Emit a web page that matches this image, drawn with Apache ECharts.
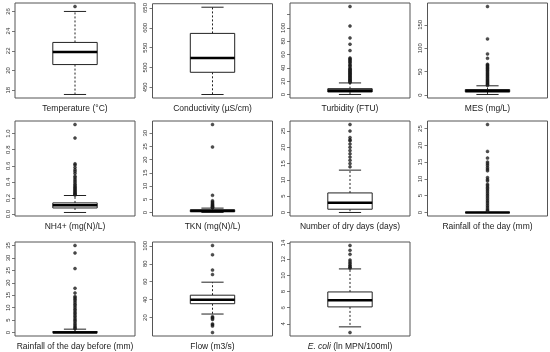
<!DOCTYPE html>
<html>
<head>
<meta charset="utf-8">
<script src="https://cdn.jsdelivr.net/npm/echarts@6/dist/echarts.min.js"></script>
<style>html,body{margin:0;padding:0;background:#fff;}#c{width:550px;height:352px;}</style>
</head>
<body>
<div id="c"></div>
<script>
// ---- data ----
const panelTitles = [
  'Temperature (°C)', 'Conductivity (µS/cm)', 'Turbidity (FTU)', 'MES (mg/L)',
  'NH4+ (mg(N)/L)', 'TKN (mg(N)/L)', 'Number of dry days (days)', 'Rainfall of the day (mm)',
  'Rainfall of the day before (mm)', 'Flow (m3/s)', '{i|E. coli} (ln MPN/100ml)'
];
// [lower whisker, Q1, median, Q3, upper whisker]
const temperatureStats = [17.56, 20.6, 21.87, 22.85, 26.0];
const conductivityStats = [432, 488, 524, 586, 652];
const turbidityStats = [0.3, 4, 6, 9, 17.6];
const mesStats = [1.5, 7, 9, 12, 20];
const nh4Stats = [0.02, 0.076, 0.109, 0.139, 0.231];
const tknStats = [0, 0.25, 0.64, 1.0, 1.65];
const dryDaysStats = [0, 1, 3, 6, 13];
const rainDayStats = [0, 0, 0, 0, 0];
const rainBeforeStats = [0, 0, 0, 0.4, 1.35];
const flowStats = [24, 35.5, 40, 45, 59.5];
const ecoliStats = [3.63, 6.1, 6.92, 7.95, 10.8];

const temperatureOut = [26.5];
const conductivityOut = [];
const turbidityOut = [132, 102.8, 85, 75.6, 66, 55, 53.6, 52.2, 50.5, 49, 47.3, 45, 43.6, 41.8, 39.5, 38.2, 37, 35.8, 34.6, 33.5, 32.1, 31, 29.8, 28.7, 27.4, 26.3, 25.1, 24, 22.9, 21.7, 20.6, 19.5, 18.4];
const mesOut = [189, 120, 88, 78.6, 66, 64.2, 62.5, 60.3, 58.1, 56.4, 54, 52.2, 49.8, 47.5, 45.3, 43.1, 41, 38.6, 36.5, 34.2, 32, 30.1, 28, 26.2, 24.1, 22.4, 21];
const nh4Out = [1.113, 0.945, 0.625, 0.61, 0.58, 0.55, 0.53, 0.505, 0.47, 0.452, 0.43, 0.41, 0.392, 0.372, 0.355, 0.34, 0.328, 0.315, 0.302, 0.29, 0.278, 0.266, 0.255, 0.244, 0.236];
const tknOut = [33.3, 24.8, 6.5, 4.4, 4.0, 3.6, 3.2, 2.9, 2.6, 2.35, 2.1, 1.9, 1.78];
const dryDaysOut = [27, 25, 23, 22.3, 22, 21, 20, 19, 18, 17, 16, 15, 14];
const rainDayOut = [26.2, 18.2, 16.2, 15, 14.5, 14, 13.4, 12.9, 12.4, 10.4, 9.8, 9.4, 8.4, 8, 7.5, 7.1, 6.6, 6.1, 5.6, 5.1, 4.6, 4.1, 3.6, 3.1, 2.6, 2.1, 1.6, 1.1, 0.7, 0.4];
const rainBeforeOut = [35, 32, 25.7, 17.8, 15.9, 14.5, 14, 13.4, 12.8, 12.1, 11.4, 10.8, 10.1, 9.4, 8.8, 8.1, 7.5, 6.8, 6.2, 5.5, 4.9, 4.3, 3.6, 3, 2.4, 1.9, 1.5];
const flowOut = [100.4, 90, 73, 68, 21, 20, 19.2, 18, 13, 12, 10.6, 3.4];
const ecoliOut = [13.7, 13.1, 12.6, 11.9, 11.7, 11.5, 11.3, 11.15, 11.0, 10.9, 2.93];

const temperatureTicks = [18, 20, 22, 24, 26];
const conductivityTicks = [450, 500, 550, 600, 650];
const turbidityTicks = [0, 20, 40, 60, 80, 100, 120];
const turbidityLabels = [0, 20, 40, 60, 80, 100];
const mesTicks = [0, 50, 100, 150];
const nh4Ticks = [0, 0.2, 0.4, 0.6, 0.8, 1.0];
const tknTicks = [0, 5, 10, 15, 20, 25, 30, 35];
const dryDaysTicks = [0, 5, 10, 15, 20, 25];
const rainDayTicks = [0, 5, 10, 15, 20, 25];
const rainBeforeTicks = [0, 5, 10, 15, 20, 25, 30, 35];
const flowTicks = [20, 40, 60, 80, 100];
const ecoliTicks = [4, 6, 8, 10, 12, 14];

const panelStats = [temperatureStats, conductivityStats, turbidityStats, mesStats, nh4Stats, tknStats, dryDaysStats, rainDayStats, rainBeforeStats, flowStats, ecoliStats];
const panelOut = [temperatureOut, conductivityOut, turbidityOut, mesOut, nh4Out, tknOut, dryDaysOut, rainDayOut, rainBeforeOut, flowOut, ecoliOut];
const panelTicks = [temperatureTicks, conductivityTicks, turbidityTicks, mesTicks, nh4Ticks, tknTicks, dryDaysTicks, rainDayTicks, rainBeforeTicks, flowTicks, ecoliTicks];
const panelLabels = [temperatureTicks, conductivityTicks, turbidityLabels, mesTicks, nh4Ticks, tknTicks, dryDaysTicks, rainDayTicks, rainBeforeTicks, flowTicks, ecoliTicks];

// ---- layout ----
const colLeft = [15, 152.5, 290, 427.5];
const rowTop = [3, 121, 242];
const plotW = 120, plotH = 95;
const FONT = 'Liberation Sans, Arial, sans-serif';

const grids = [], xAxes = [], yAxes = [], series = [];
panelStats.forEach((st, i) => {
  const r = Math.floor(i / 4), c = i % 4;
  grids.push({left: colLeft[c], top: rowTop[r], width: plotW, height: plotH,
    show: true, borderColor: '#555', borderWidth: 1, backgroundColor: 'transparent'});
  const all = st.concat(panelOut[i]);
  const lo = Math.min(...all), hi = Math.max(...all);
  const ext = (hi - lo) * 0.04;
  xAxes.push({type: 'category', gridIndex: i, data: ['v'],
    axisLine: {show: false}, axisTick: {show: false}, axisLabel: {show: false},
    splitLine: {show: false},
    name: panelTitles[i], nameLocation: 'middle', nameGap: 6,
    nameTextStyle: {fontFamily: FONT, fontSize: 8.5, color: '#222',
      rich: {i: {fontStyle: 'italic', fontFamily: FONT, fontSize: 8.5, color: '#222'}}}});
  const isNH4 = i === 4;
  yAxes.push({type: 'value', gridIndex: i, min: lo - ext, max: hi + ext,
    splitLine: {show: false}, axisLine: {show: false},
    axisTick: {show: true, length: 3, lineStyle: {color: '#555', width: 0.8}, customValues: panelTicks[i]},
    axisLabel: {show: true, rotate: 90, margin: 4, fontSize: 6, color: '#333', fontFamily: FONT,
      customValues: panelLabels[i],
      formatter: v => isNH4 ? Number(v).toFixed(1) : String(v)}});
  series.push({type: 'custom', xAxisIndex: i, yAxisIndex: i, silent: true,
    data: [[0].concat(st)],
    encode: {x: 0, y: [1, 2, 3, 4, 5]},
    renderItem: function (params, api) {
      const bw = api.size([1, 0])[0] * 0.37;
      const cw = bw * 0.5;
      const pMin = api.coord([0, api.value(1)]);
      const pQ1 = api.coord([0, api.value(2)]);
      const pMed = api.coord([0, api.value(3)]);
      const pQ3 = api.coord([0, api.value(4)]);
      const pMax = api.coord([0, api.value(5)]);
      const x = pMed[0];
      const lineC = '#222';
      return {type: 'group', children: [
        {type: 'line', shape: {x1: x, y1: pQ3[1], x2: x, y2: pMax[1]}, style: {stroke: lineC, lineWidth: 1, lineDash: [2, 2]}},
        {type: 'line', shape: {x1: x, y1: pQ1[1], x2: x, y2: pMin[1]}, style: {stroke: lineC, lineWidth: 1, lineDash: [2, 2]}},
        {type: 'line', shape: {x1: x - cw / 2, y1: pMax[1], x2: x + cw / 2, y2: pMax[1]}, style: {stroke: lineC, lineWidth: 1}},
        {type: 'line', shape: {x1: x - cw / 2, y1: pMin[1], x2: x + cw / 2, y2: pMin[1]}, style: {stroke: lineC, lineWidth: 1}},
        {type: 'rect', shape: {x: x - bw / 2, y: pQ3[1], width: bw, height: pQ1[1] - pQ3[1]}, style: {fill: '#fff', stroke: lineC, lineWidth: 1}},
        {type: 'line', shape: {x1: x - bw / 2, y1: pMed[1], x2: x + bw / 2, y2: pMed[1]}, style: {stroke: '#000', lineWidth: 2.6}}
      ]};
    }});
  series.push({type: 'scatter', xAxisIndex: i, yAxisIndex: i, silent: true,
    data: panelOut[i].map(v => [0, v]), symbol: 'circle', symbolSize: 3,
    itemStyle: {color: '#222', borderColor: '#111', borderWidth: 0.5}, z: 5});
});

const chart = echarts.init(document.getElementById('c'), null, {renderer: 'canvas'});
chart.setOption({animation: false, backgroundColor: '#fff',
  textStyle: {fontFamily: FONT},
  grid: grids, xAxis: xAxes, yAxis: yAxes, series: series});
</script>
</body>
</html>
